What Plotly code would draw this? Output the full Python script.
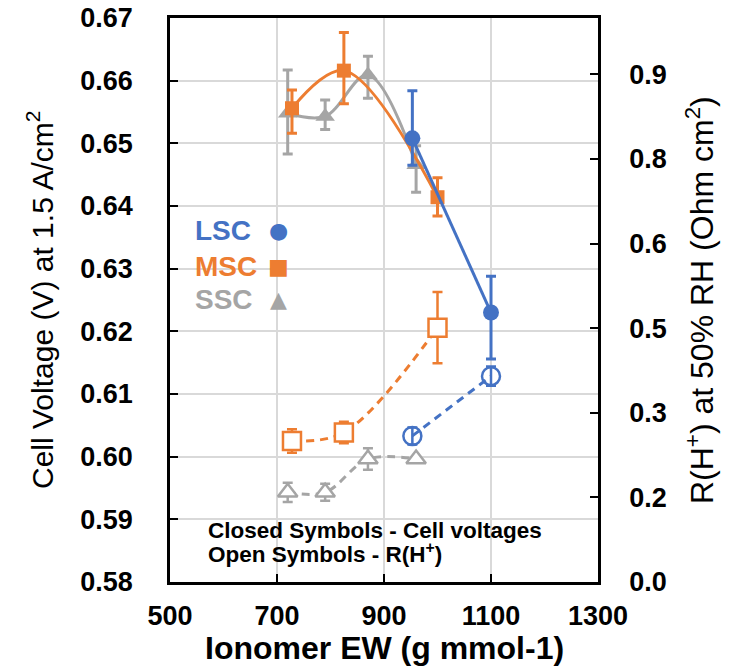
import plotly.graph_objects as go

# ---------------- data ----------------
# Closed symbols: cell voltage (V) at 1.5 A/cm2 (left axis)
lsc_ew = [953, 1100]
lsc_v = [0.6508, 0.6230]
lsc_v_plus = [0.0076, 0.0058]
lsc_v_minus = [0.0043, 0.0074]

msc_ew = [728, 825, 1000]
msc_v = [0.6556, 0.6616, 0.6414]
msc_v_plus = [0.0029, 0.0061, 0.0031]
msc_v_minus = [0.0040, 0.0053, 0.0030]

ssc_ew = [720, 790, 870, 960]
ssc_v = [0.6548, 0.6543, 0.6609, 0.6466]
ssc_v_plus = [0.0069, 0.0026, 0.0030, 0.0030]
ssc_v_minus = [0.0065, 0.0021, 0.0037, 0.0044]

# Open symbols: R(H+) at 50% RH (Ohm cm2) (right axis)
lsc_r = [0.259, 0.365]
lsc_r_err = [0.015, 0.017]
msc_r = [0.250, 0.265, 0.451]
msc_r_err = [0.021, 0.019, 0.063]
ssc_r = [0.159, 0.159, 0.218, 0.218]
ssc_r_err = [0.017, 0.015, 0.019, 0.004]

# axis ticks
x_ticks = [500, 700, 900, 1100, 1300]
y_left_ticks = [0.58, 0.59, 0.60, 0.61, 0.62, 0.63, 0.64, 0.65, 0.66, 0.67]
y_right_tickvals = [0.0, 0.15, 0.30, 0.45, 0.60, 0.75, 0.90]
y_right_ticktext = ["0.0", "0.2", "0.3", "0.5", "0.6", "0.8", "0.9"]

series_names = ["LSC", "MSC", "SSC"]

# ---------------- styles ----------------
BLUE = "#4472C4"
ORANGE = "#ED7D31"
GRAY = "#A5A5A5"
GRID = "#D9D9D9"
FONT = "Liberation Sans, Arial, sans-serif"

fig = go.Figure()


def closed(x, y, plus, minus, color, symbol, size, name):
    fig.add_trace(go.Scatter(
        x=x, y=y, name=name, mode="lines+markers",
        line=dict(color=color, width=3, shape="spline", smoothing=1),
        marker=dict(symbol=symbol, size=size, color=color),
        error_y=dict(type="data", array=plus, arrayminus=minus, symmetric=False,
                     color=color, thickness=3, width=5),
        yaxis="y"))


def opened(x, y, err, color, symbol, size, name, fill):
    fig.add_trace(go.Scatter(
        x=x, y=y, name=name, mode="lines+markers",
        line=dict(color=color, width=3, dash="8px,6px", shape="spline", smoothing=1),
        marker=dict(symbol=symbol, size=size, color=fill,
                    line=dict(color=color, width=2.5)),
        error_y=dict(type="data", array=err, color=color, thickness=2.5, width=5),
        yaxis="y2"))


opened(ssc_ew, ssc_r, ssc_r_err, GRAY, "triangle-up", 17, "SSC R", "white")
opened(msc_ew, msc_r, msc_r_err, ORANGE, "square", 18, "MSC R", "white")
opened(lsc_ew, lsc_r, lsc_r_err, BLUE, "circle-open", 18, "LSC R", BLUE)

closed(ssc_ew, ssc_v, ssc_v_plus, ssc_v_minus, GRAY, "triangle-up", 17, "SSC")
closed(msc_ew, msc_v, msc_v_plus, msc_v_minus, ORANGE, "square", 14, "MSC")
closed(lsc_ew, lsc_v, lsc_v_plus, lsc_v_minus, BLUE, "circle", 16, "LSC")

tickfont = dict(family=FONT, size=27, color="black", weight="bold")

fig.update_layout(
    width=732, height=668,
    margin=dict(l=170, r=134, t=18, b=86, autoexpand=False),
    paper_bgcolor="white", plot_bgcolor="white",
    showlegend=False,
    xaxis=dict(range=[500, 1300], tickvals=x_ticks, ticks="inside", ticklen=8,
               tickwidth=2, tickcolor="black", showline=True, linecolor="black",
               linewidth=2.5, mirror=True, showgrid=True, gridcolor=GRID, gridwidth=1.5,
               zeroline=False, tickfont=tickfont, ticklabelstandoff=8, automargin=False),
    yaxis=dict(range=[0.58, 0.67], tickvals=y_left_ticks, tickformat=".2f",
               ticks="inside", ticklen=8, tickwidth=2, tickcolor="black",
               showline=True, linecolor="black", linewidth=2.5,
               showgrid=True, gridcolor=GRID, gridwidth=1.5, zeroline=False,
               tickfont=tickfont, ticklabelstandoff=29, automargin=False),
    yaxis2=dict(range=[0, 1.0], overlaying="y", side="right",
                tickvals=y_right_tickvals, ticktext=y_right_ticktext,
                ticks="inside", ticklen=8, tickwidth=2, tickcolor="black",
                showline=True, linecolor="black", linewidth=2.5,
                showgrid=False, zeroline=False, tickfont=tickfont,
                ticklabelstandoff=23, automargin=False),
)

ann = []
# axis titles
ann.append(dict(text="Cell Voltage (V) at 1.5 A/cm<sup>2</sup>", xref="paper", yref="paper",
                x=0, y=0.5, xanchor="center", yanchor="middle", xshift=-130,
                textangle=-90, showarrow=False,
                font=dict(family=FONT, size=30, color="black")))
ann.append(dict(text="R(H<sup>+</sup>) at 50% RH (Ohm cm<sup>2</sup>)", xref="paper", yref="paper",
                x=1, y=0.5, xanchor="center", yanchor="middle", xshift=102,
                textangle=-90, showarrow=False,
                font=dict(family=FONT, size=32, color="black")))
ann.append(dict(text="Ionomer EW (g mmol-1)", xref="paper", yref="paper",
                x=0.5, y=0, xanchor="center", yanchor="middle", yshift=-66,
                showarrow=False,
                font=dict(family=FONT, size=32, color="black", weight="bold")))
# note
note_lines = ["Closed Symbols - Cell voltages", "Open Symbols - R(H<sup>+</sup>)"]
for line, yy in zip(note_lines, [530, 553]):
    ann.append(dict(text=line, xref="paper", yref="paper", x=0, y=1,
                    xanchor="left", yanchor="middle", xshift=36, yshift=-(yy - 18),
                    align="left", showarrow=False,
                    font=dict(family=FONT, size=22.5, color="black", weight="bold")))
# legend labels
leg_colors = [BLUE, ORANGE, GRAY]
leg_glyphs = ["\u25CF", "\u25A0", "\u25B2"]
leg_y = [230, 266, 299]
for name, col, gl, yy in zip(series_names, leg_colors, leg_glyphs, leg_y):
    ann.append(dict(text=name, xref="paper", yref="paper", x=0, y=1, xanchor="left",
                    yanchor="middle", xshift=23, yshift=-(yy - 18), showarrow=False,
                    font=dict(family=FONT, size=28, color=col, weight="bold")))
    ann.append(dict(text=gl, xref="paper", yref="paper", x=0, y=1, xanchor="center",
                    yanchor="middle", xshift=108, yshift=-(yy - 18), showarrow=False,
                    font=dict(family="DejaVu Sans", size=22, color=col)))
fig.update_layout(annotations=ann)

fig.write_html("out.html")
